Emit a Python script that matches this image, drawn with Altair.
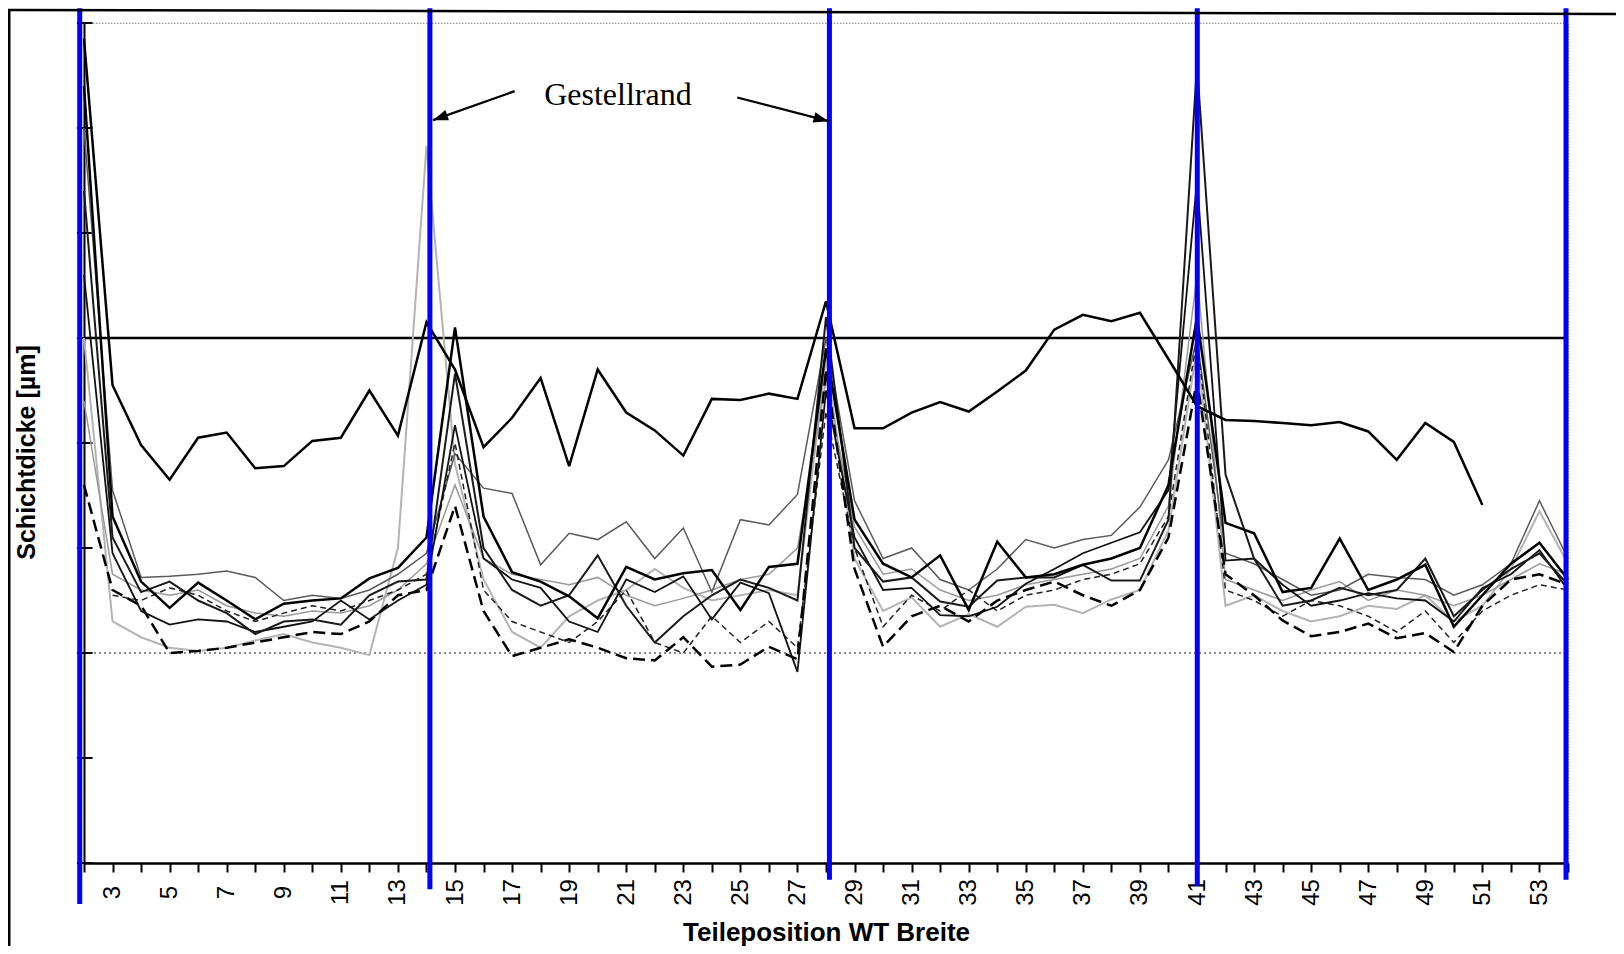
import altair as alt
import pandas as pd

# ---------------- data ----------------
positions = list(range(2, 55))          # Teileposition 2 .. 54
tick_values = list(range(2, 55))
y_ticks = [0, 1, 2, 3, 4, 5, 6, 7, 8]

S1 = [7.85, 4.55, 3.98, 3.65, 4.05, 4.10, 3.76, 3.78, 4.02, 4.05, 4.50, 4.07, 5.15,
      4.70, 3.96, 4.24, 4.62, 3.78, 4.70, 4.29, 4.12, 3.88, 4.42, 4.41, 4.47, 4.42, 5.35,
      4.14, 4.14, 4.29, 4.39, 4.30, 4.49, 4.69, 5.08, 5.22, 5.16, 5.24, 4.80, 4.35,
      4.22, 4.21, 4.19, 4.17, 4.20, 4.11, 3.84, 4.19, 4.01, 3.41, None, None, None]
K1 = [7.40, 3.30, 2.68, 2.43, 2.67, 2.50, 2.32, 2.47, 2.50, 2.52, 2.71, 2.81, 3.10,
      5.10, 3.30, 2.77, 2.68, 2.54, 2.33, 2.82, 2.70, 2.76, 2.79, 2.41, 2.82, 2.85, 4.90,
      3.27, 2.85, 2.72, 2.93, 2.41, 3.06, 2.72, 2.75, 2.84, 2.90, 3.00, 3.60, 5.20,
      3.24, 3.14, 2.58, 2.62, 3.09, 2.60, 2.70, 2.84, 2.25, 2.55, 2.85, 3.05, 2.70]
K2 = [6.40, 3.10, 2.58, 2.68, 2.50, 2.38, 2.18, 2.30, 2.32, 2.27, 2.55, 2.68, 2.70,
      4.66, 3.00, 2.60, 2.45, 2.55, 2.93, 2.45, 2.10, 2.35, 2.55, 2.70, 2.62, 2.50, 5.20,
      3.00, 2.68, 2.72, 2.49, 2.44, 2.69, 2.72, 2.72, 2.84, 2.69, 2.69, 3.27, 7.60,
      3.70, 2.90, 2.45, 2.50, 2.62, 2.55, 2.60, 2.90, 2.35, 2.60, 2.80, 2.95, 2.65]
K3 = [5.60, 2.95, 2.40, 2.27, 2.32, 2.30, 2.20, 2.25, 2.30, 2.50, 2.32, 2.50, 2.65,
      4.17, 2.90, 2.70, 2.62, 2.30, 2.20, 2.70, 2.58, 2.73, 2.32, 2.67, 2.57, 1.82, 4.50,
      3.10, 2.60, 2.62, 2.36, 2.35, 2.44, 2.66, 2.80, 2.95, 3.05, 3.15, 3.55, 6.50,
      2.88, 2.90, 2.65, 2.45, 2.50, 2.57, 2.52, 2.50, 2.30, 2.62, 2.75, 2.98, 2.60]
G1 = [7.00, 3.55, 2.72, 2.73, 2.75, 2.78, 2.72, 2.50, 2.55, 2.52, 2.60, 2.75, 2.95,
      3.90, 3.57, 3.52, 2.84, 3.14, 3.08, 3.25, 2.90, 3.19, 2.58, 3.27, 3.22, 3.51, 5.00,
      3.45, 2.90, 3.00, 2.70, 2.60, 2.80, 3.08, 3.00, 3.08, 3.12, 3.39, 3.84, 5.00,
      2.95, 2.85, 2.70, 2.55, 2.60, 2.75, 2.72, 2.70, 2.55, 2.65, 2.85, 3.45, 2.90]
G2 = [5.00, 2.30, 2.15, 2.05, 2.02, 2.05, 2.12, 2.18, 2.10, 2.05, 1.98, 3.00, 6.83,
      3.80, 2.70, 2.20, 2.05, 2.35, 2.50, 2.60, 2.80, 2.62, 2.50, 2.55, 2.60, 2.55, 4.80,
      2.90, 2.40, 2.53, 2.25, 2.37, 2.25, 2.44, 2.46, 2.38, 2.51, 2.60, 3.17, 4.90,
      2.45, 2.55, 2.40, 2.30, 2.35, 2.45, 2.42, 2.55, 2.30, 2.45, 2.80, 3.35, 2.85]
G3 = [4.40, 2.75, 2.60, 2.55, 2.60, 2.45, 2.38, 2.35, 2.40, 2.38, 2.45, 2.60, 2.85,
      3.60, 2.90, 2.75, 2.70, 2.65, 2.72, 2.55, 2.45, 2.52, 2.60, 2.70, 2.75, 3.00, 4.60,
      3.20, 2.75, 2.80, 2.60, 2.50, 2.55, 2.65, 2.70, 2.75, 2.80, 2.90, 3.40, 5.60,
      2.70, 2.60, 2.50, 2.60, 2.68, 2.50, 2.60, 2.55, 2.45, 2.55, 2.70, 2.85, 2.75]
D1 = [3.60, 2.60, 2.45, 2.00, 2.02, 2.05, 2.10, 2.15, 2.20, 2.18, 2.30, 2.55, 2.60,
      3.40, 2.40, 1.97, 2.05, 2.13, 2.05, 1.95, 1.93, 2.15, 1.87, 1.89, 2.06, 1.94, 4.70,
      2.80, 2.06, 2.35, 2.45, 2.30, 2.50, 2.60, 2.68, 2.55, 2.45, 2.60, 3.10, 4.60,
      2.75, 2.55, 2.31, 2.16, 2.20, 2.28, 2.14, 2.19, 2.01, 2.45, 2.70, 2.75, 2.65]
D2 = [None, 2.55, 2.50, 2.62, 2.55, 2.40, 2.30, 2.38, 2.45, 2.40, 2.50, 2.60, 2.75,
      4.00, 2.60, 2.30, 2.20, 2.10, 2.30, 2.60, 2.10, 2.00, 2.35, 2.10, 2.30, 2.05, 4.30,
      3.00, 2.25, 2.55, 2.40, 2.60, 2.40, 2.55, 2.60, 2.70, 2.75, 2.85, 3.30, 5.00,
      2.60, 2.50, 2.35, 2.50, 2.45, 2.35, 2.20, 2.40, 2.10, 2.40, 2.55, 2.65, 2.60]

series = {"G2": G2, "G3": G3, "G1": G1, "D2": D2, "D1": D1,
          "K3": K3, "K2": K2, "K1": K1, "S1": S1}
styles = {  # colour, width, dash
    "G2": ("#b4b4b4", 2.0, None),
    "G3": ("#9a9a9a", 1.5, None),
    "G1": ("#5a5a5a", 1.5, None),
    "D2": ("#222222", 1.5, [6, 4]),
    "D1": ("#000000", 2.5, [12, 6]),
    "K3": ("#111111", 1.8, None),
    "K2": ("#1a1a1a", 2.0, None),
    "K1": ("#000000", 2.5, None),
    "S1": ("#000000", 2.5, None),
}

upper_limit = [5.0]
lower_limit = [2.0]

edge_pos = [1.85, 14.12, 28.12, 41.01, 53.93]
edge_top = [8.14, 8.14, 8.14, 8.14, 8.14]
edge_bottom = [-0.39, -0.25, -0.16, -0.22, -0.16]

label_text = ["Gestellrand"]
label_n = [20.71]
label_v = [7.22]

arrow_n = [17.09, 24.89]
arrow_v = [7.351, 7.291]
arrow_n2 = [14.23, 28.09]
arrow_v2 = [7.075, 7.065]
arrow_angle = [250.5, 104.6]

# ---------------- chart ----------------
xs = alt.Scale(domain=[2, 54], nice=False, zero=False)
ys = alt.Scale(domain=[0, 8], nice=False, zero=False)

x_axis = alt.Axis(values=tick_values, labelExpr="datum.value % 2 == 1 ? datum.label : ''",
                  labelAngle=270, labelFontSize=24, labelFont="Liberation Sans",
                  labelAlign="center", labelBaseline="middle",
                  labelColor="black", labelPadding=20, labelOverlap=False, labelFlush=False,
                  tickSize=9, tickWidth=2, tickColor="black",
                  domainColor="black", domainWidth=2.5, grid=False, format="d",
                  title="Teileposition WT Breite", titleFont="Liberation Sans",
                  titleFontWeight="bold", titleFontSize=26, titleColor="black",
                  titleX=742, titleY=77, titleBaseline="alphabetic", titleAlign="center")
y_axis = alt.Axis(values=y_ticks, labels=False, ticks=False, grid=False,
                  domainColor="black", domainWidth=2,
                  title="Schichtdicke [µm]", titleFont="Liberation Sans",
                  titleFontWeight="bold", titleFontSize=25, titleColor="black",
                  titleX=-58, titleY=429, titleAngle=270, titleBaseline="middle",
                  titleAlign="center")


def X(field):
    return alt.X(field, type="quantitative", scale=xs, axis=x_axis)


def Y(field):
    return alt.Y(field, type="quantitative", scale=ys, axis=y_axis)


ref_df = pd.DataFrame({"x": [2], "x2": [54], "up": upper_limit, "lo": lower_limit})
base = alt.Chart(ref_df)
lower = base.mark_rule(color="#666666", strokeWidth=1.5, strokeDash=[2, 3]).encode(
    x=X("x"), x2="x2:Q", y=Y("lo"))
upper = base.mark_rule(color="black", strokeWidth=2.5).encode(
    x=X("x"), x2="x2:Q", y=Y("up"))

tick_df = pd.DataFrame({"a": [1.75] * len(y_ticks), "b": [2.3] * len(y_ticks), "t": y_ticks})
yticks = alt.Chart(tick_df).mark_rule(color="black", strokeWidth=2, clip=False).encode(
    x=X("a"), x2="b:Q", y=Y("t"))

layers = [lower, upper, yticks]
for name, vals in series.items():
    rows = [{"n": n, "v": v} for n, v in zip(positions, vals) if v is not None]
    c, w, d = styles[name]
    kw = dict(color=c, strokeWidth=w, strokeMiterLimit=3)
    if d:
        kw["strokeDash"] = d
    layers.append(alt.Chart(pd.DataFrame(rows)).mark_line(**kw).encode(
        x=X("n"), y=Y("v")))

edge_df = pd.DataFrame({"n": edge_pos, "t": edge_top, "b": edge_bottom})
blue = alt.Chart(edge_df).mark_rule(color="#0000ff", strokeWidth=5, clip=False).encode(
    x=X("n"), y=Y("t"), y2="b:Q")

txt_df = pd.DataFrame({"n": label_n, "v": label_v, "t": label_text})
txt = alt.Chart(txt_df).mark_text(font="Liberation Serif", fontSize=32, color="black",
                                  baseline="alphabetic", align="center").encode(
    x=X("n"), y=Y("v"), text="t:N")

arr_df = pd.DataFrame({"n": arrow_n, "v": arrow_v, "n2": arrow_n2, "v2": arrow_v2,
                       "ang": arrow_angle})
arr_line = alt.Chart(arr_df).mark_rule(color="black", strokeWidth=2.2).encode(
    x=X("n"), y=Y("v"), x2="n2:Q", y2="v2:Q")
arr_head = alt.Chart(arr_df).mark_point(shape="M0,0L-0.36,1L0.36,1Z", filled=True,
                                        color="black", size=900, opacity=1).encode(
    x=X("n2"), y=Y("v2"), angle=alt.Angle("ang:Q", scale=None))

frame_df = pd.DataFrame({"k": [0]})
frame_left = alt.Chart(frame_df).mark_rule(color="black", strokeWidth=3, clip=False).encode(
    x=alt.value(-75), y=alt.value(-13), y2=alt.value(923))
frame_top = alt.Chart(frame_df).mark_rule(color="black", strokeWidth=2.5, clip=False).encode(
    x=alt.value(-76), x2=alt.value(1532), y=alt.value(-13), y2=alt.value(-9))

layers += [blue, arr_line, arr_head, txt, frame_left, frame_top]

chart = alt.layer(*layers).properties(
    width=1484, height=840,
    autosize=alt.AutoSizeParams(type="none"),
    padding={"left": 76, "top": 15, "right": 48, "bottom": 83},
    background="white",
).configure_view(stroke="#666666", strokeDash=[1, 2], strokeWidth=1.2)

chart.save("out.html", embed_options={"renderer": "svg", "actions": False})
